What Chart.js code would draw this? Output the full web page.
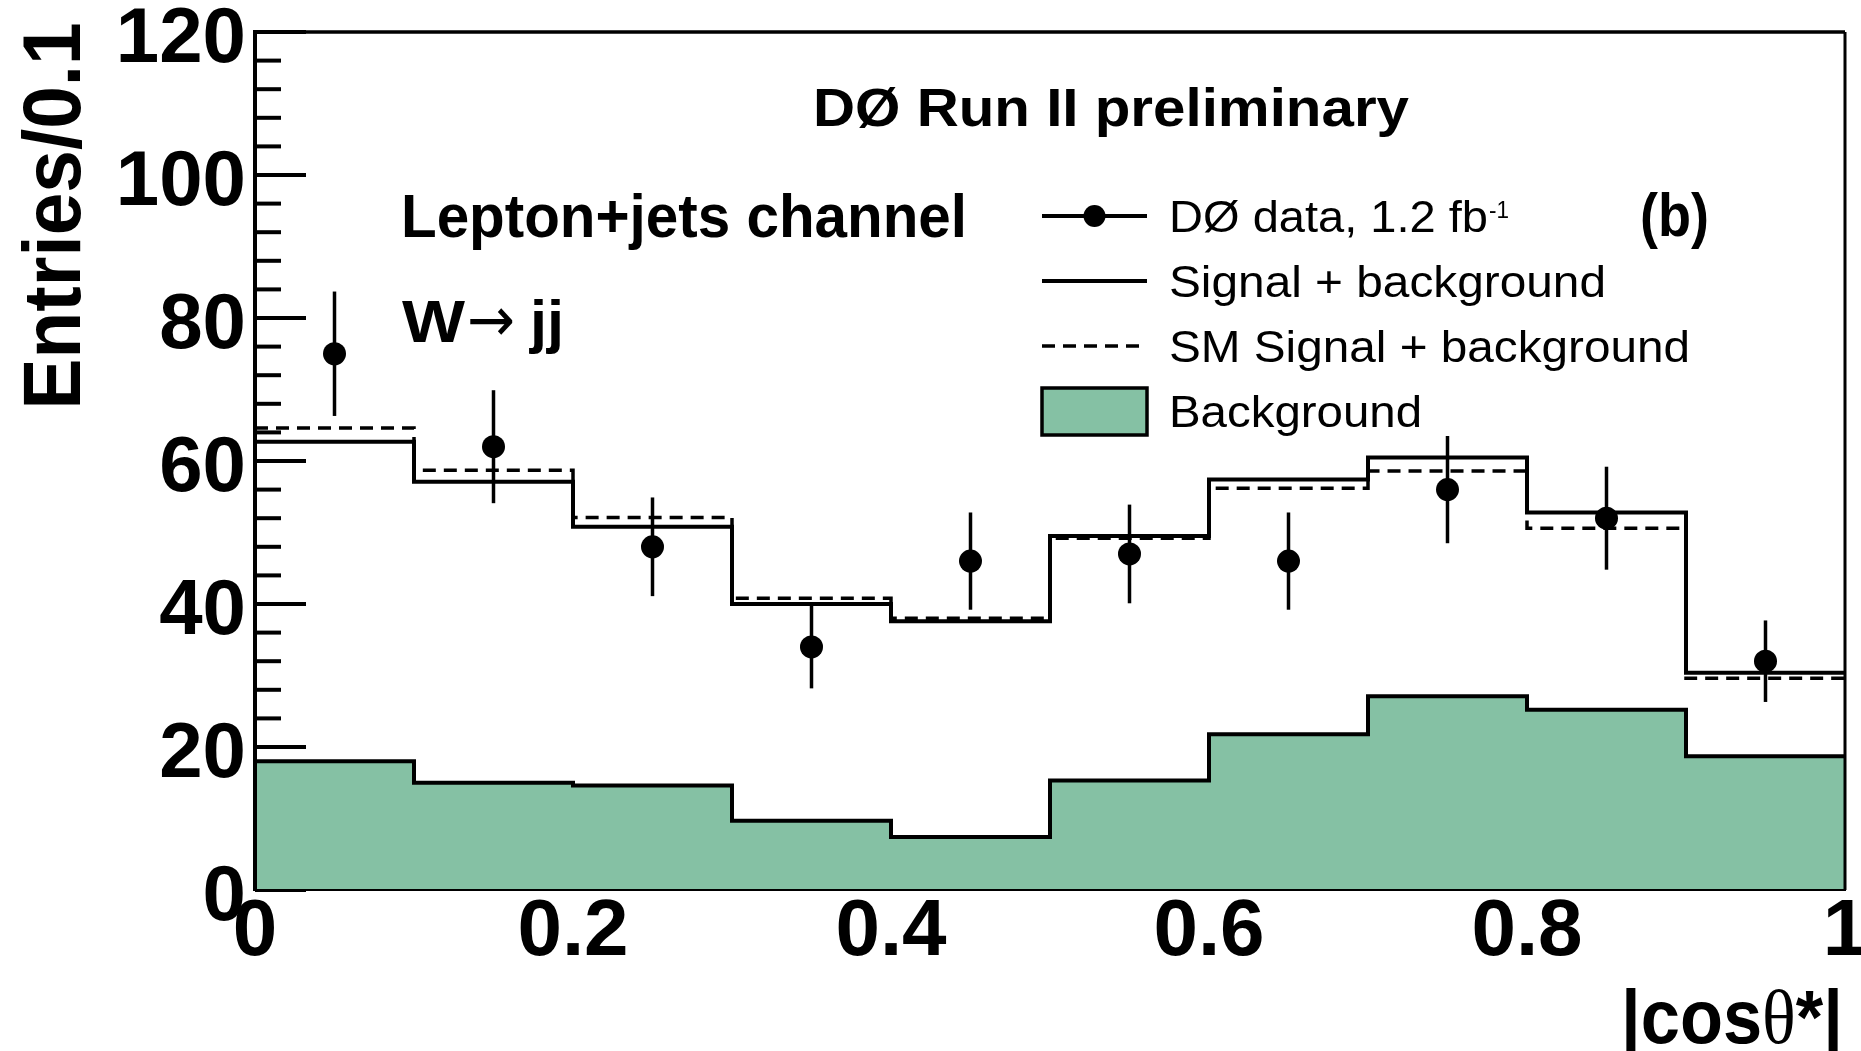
<!DOCTYPE html>
<html>
<head>
<meta charset="utf-8">
<script src="https://cdn.jsdelivr.net/npm/chart.js@4.4.1/dist/chart.umd.min.js"></script>
<style>
  html, body { margin: 0; padding: 0; background: #fff; }
  #wrap { width: 1861px; height: 1051px; }
</style>
</head>
<body>
<div id="wrap"><canvas id="chart"></canvas></div>
<script>
// |cos theta*| binning (width 0.1)
const binLow = [0.0, 0.1, 0.2, 0.3, 0.4, 0.5, 0.6, 0.7, 0.8, 0.9];
const binHigh = 1.0;
const binCenter = [0.05, 0.15, 0.25, 0.35, 0.45, 0.55, 0.65, 0.75, 0.85, 0.95];

// DØ data, 1.2 fb-1, with statistical errors
const dataCounts = [75, 62, 48, 34, 46, 47, 46, 56, 52, 32];
const dataErrors = [8.7, 7.9, 6.9, 5.8, 6.8, 6.9, 6.8, 7.5, 7.2, 5.7];

// expectations per bin
const sigPlusBkg = [62.7, 57.1, 50.8, 40.0, 37.6, 49.5, 57.4, 60.5, 52.8, 30.4];
const smSigPlusBkg = [64.6, 58.7, 52.1, 40.8, 38.0, 49.2, 56.2, 58.6, 50.6, 29.6];
const background = [18.0, 15.0, 14.6, 9.7, 7.4, 15.3, 21.8, 27.1, 25.2, 18.7];

const yTicks = [0, 20, 40, 60, 80, 100, 120];
const xTicks = [0, 0.2, 0.4, 0.6, 0.8, 1];
const yMinorStep = 4;

const BKG_GREEN = "#85c1a4";
const SANS = "'Liberation Sans', Arial, Helvetica, sans-serif";

// Turn per-bin values into points for a stepped line
function histPoints(values) {
  const pts = values.map((v, i) => ({ x: binLow[i], y: v }));
  pts.push({ x: binHigh, y: values[values.length - 1] });
  return pts;
}

// Draw text squeezed/stretched to a given width
function fitText(ctx, text, x, y, font, width, align) {
  ctx.save();
  ctx.font = font;
  const sx = width / ctx.measureText(text).width;
  ctx.translate(x, y);
  ctx.scale(sx, 1);
  ctx.textAlign = align || "left";
  ctx.textBaseline = "alphabetic";
  ctx.fillText(text, 0, 0);
  ctx.restore();
}

const decorations = {
  id: "decorations",
  beforeDatasetsDraw(chart) {
    // tick marks on the inside of the y axis
    const { ctx, chartArea: a, scales: { y } } = chart;
    ctx.save();
    ctx.strokeStyle = "#000";
    ctx.lineWidth = 4;
    for (let v = 0; v <= y.max; v += yMinorStep) {
      const py = y.getPixelForValue(v);
      const len = yTicks.includes(v) ? 51 : 26;
      ctx.beginPath();
      ctx.moveTo(a.left, py);
      ctx.lineTo(a.left + len, py);
      ctx.stroke();
    }
    ctx.restore();
  },
  afterDatasetsDraw(chart) {
    const { ctx, chartArea: a, scales: { x, y } } = chart;
    ctx.save();
    ctx.strokeStyle = "#000";
    ctx.fillStyle = "#000";

    // error bars on the data points
    ctx.lineWidth = 3.5;
    binCenter.forEach((c, i) => {
      const px = x.getPixelForValue(c);
      ctx.beginPath();
      ctx.moveTo(px, y.getPixelForValue(dataCounts[i] + dataErrors[i]));
      ctx.lineTo(px, y.getPixelForValue(dataCounts[i] - dataErrors[i]));
      ctx.stroke();
    });

    // frame
    ctx.lineWidth = 2;
    ctx.beginPath(); ctx.moveTo(a.left, a.bottom); ctx.lineTo(a.right, a.bottom); ctx.stroke();
    ctx.lineWidth = 4;
    ctx.beginPath(); ctx.moveTo(a.left, a.bottom + 1); ctx.lineTo(a.left, a.top); ctx.stroke();
    ctx.lineWidth = 3.5;
    ctx.beginPath(); ctx.moveTo(a.left - 2, a.top); ctx.lineTo(a.right, a.top); ctx.stroke();
    ctx.lineWidth = 3;
    ctx.beginPath(); ctx.moveTo(a.right, a.top); ctx.lineTo(a.right, a.bottom); ctx.stroke();

    // labels inside the frame
    fitText(ctx, "DØ Run II preliminary", 813, 126, "bold 53px " + SANS, 596);
    fitText(ctx, "Lepton+jets channel", 401, 237, "bold 61px " + SANS, 566);
    fitText(ctx, "W", 402, 342, "bold 60px " + SANS, 63);
    fitText(ctx, "\u2192", 467, 341, "62px 'DejaVu Sans', sans-serif", 48);
    fitText(ctx, "jj", 530, 342, "bold 60px " + SANS, 34);
    fitText(ctx, "(b)", 1640, 236, "bold 61px " + SANS, 69);

    // legend
    const lx0 = 1042, lx1 = 1147, tx = 1169;
    const rows = [216, 281, 346, 411];
    ctx.lineWidth = 4;
    ctx.beginPath(); ctx.moveTo(lx0, rows[0]); ctx.lineTo(lx1, rows[0]); ctx.stroke();
    ctx.beginPath(); ctx.arc((lx0 + lx1) / 2, rows[0], 11, 0, Math.PI * 2); ctx.fill();
    ctx.beginPath(); ctx.moveTo(lx0, rows[1]); ctx.lineTo(lx1, rows[1]); ctx.stroke();
    ctx.lineWidth = 3.5;
    ctx.setLineDash([13, 8]);
    ctx.beginPath(); ctx.moveTo(lx0, rows[2]); ctx.lineTo(lx1 - 5, rows[2]); ctx.stroke();
    ctx.setLineDash([]);
    ctx.fillStyle = BKG_GREEN;
    ctx.fillRect(lx0, rows[3] - 23, lx1 - lx0, 47);
    ctx.strokeRect(lx0, rows[3] - 23, lx1 - lx0, 47);
    ctx.fillStyle = "#000";
    fitText(ctx, "DØ data, 1.2 fb", tx, 232, "45px " + SANS, 319);
    fitText(ctx, "-1", 1489, 218, "24px " + SANS, 20);
    fitText(ctx, "Signal + background", tx, 297, "45px " + SANS, 437);
    fitText(ctx, "SM Signal + background", tx, 362, "45px " + SANS, 521);
    fitText(ctx, "Background", tx, 427, "45px " + SANS, 253);

    // axis titles
    ctx.save();
    ctx.translate(80, 216);
    ctx.rotate(-Math.PI / 2);
    fitText(ctx, "Entries/0.1", 0, 0, "bold 82px " + SANS, 387, "center");
    ctx.restore();

    const parts = [
      { t: "|cos", f: "bold 76px " + SANS },
      { t: "\u03b8", f: "76px 'Liberation Serif', serif" },
      { t: "*|", f: "bold 76px " + SANS },
    ];
    let total = 0;
    parts.forEach(p => { ctx.font = p.f; p.w = ctx.measureText(p.t).width; total += p.w; });
    const target = 222;
    ctx.save();
    ctx.translate(1843 - target, 1043);
    ctx.scale(target / total, 1);
    let cx = 0;
    parts.forEach(p => { ctx.font = p.f; ctx.fillText(p.t, cx, 0); cx += p.w; });
    ctx.restore();

    ctx.restore();
  }
};

const tickFont = size => ({ family: SANS, weight: "bold", size: size, lineHeight: 1 });

new Chart(document.getElementById("chart"), {
  type: "line",
  data: {
    datasets: [
      {
        label: "DØ data, 1.2 fb-1",
        data: binCenter.map((c, i) => ({ x: c, y: dataCounts[i] })),
        showLine: false,
        pointRadius: 11.5,
        pointHoverRadius: 11.5,
        pointBackgroundColor: "#000",
        pointBorderWidth: 0,
      },
      {
        label: "Signal + background",
        data: histPoints(sigPlusBkg),
        stepped: true,
        borderColor: "#000",
        borderWidth: 4,
        pointRadius: 0,
        fill: false,
      },
      {
        label: "SM Signal + background",
        data: histPoints(smSigPlusBkg),
        stepped: true,
        borderColor: "#000",
        borderWidth: 3.5,
        borderDash: [13, 8],
        pointRadius: 0,
        fill: false,
      },
      {
        label: "Background",
        data: histPoints(background),
        stepped: true,
        borderColor: "#000",
        borderWidth: 4,
        backgroundColor: BKG_GREEN,
        pointRadius: 0,
        fill: "origin",
      },
    ]
  },
  options: {
    responsive: true,
    maintainAspectRatio: false,
    animation: false,
    events: [],
    layout: { padding: { left: 0, top: 32, right: 16, bottom: 0 } },
    plugins: {
      legend: { display: false },
      tooltip: { enabled: false },
    },
    scales: {
      x: {
        type: "linear",
        min: 0,
        max: 1,
        afterBuildTicks: s => { s.ticks = xTicks.map(v => ({ value: v })); },
        afterFit: s => { s.height = 161; s.paddingLeft = 0; s.paddingRight = 0; },
        grid: { display: false, drawTicks: false },
        border: { display: true, color: "#000", width: 2 },
        ticks: {
          color: "#000",
          font: tickFont(80),
          padding: 3,
          maxRotation: 0,
          autoSkip: false,
          callback: v => String(v),
        },
      },
      y: {
        type: "linear",
        min: 0,
        max: 120,
        afterBuildTicks: s => { s.ticks = yTicks.map(v => ({ value: v })); },
        afterFit: s => { s.width = 255; s.paddingTop = 0; s.paddingBottom = 0; },
        grid: { display: false, drawTicks: false },
        border: { display: true, color: "#000", width: 4 },
        ticks: {
          color: "#000",
          font: tickFont(78),
          padding: 9,
          labelOffset: 8,
          autoSkip: false,
          callback: v => String(v),
        },
      },
    },
  },
  plugins: [decorations],
});
</script>
</body>
</html>
